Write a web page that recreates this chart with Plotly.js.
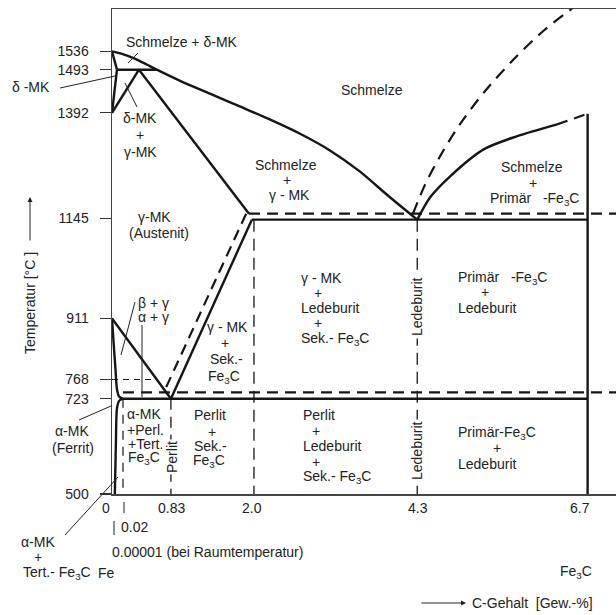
<!DOCTYPE html>
<html><head><meta charset="utf-8">
<script src="https://cdn.plot.ly/plotly-3.0.1.min.js"></script>
<style>html,body{margin:0;padding:0;background:#fff}#chart{width:616px;height:615px}</style>
</head><body><div id="chart"></div>
<script>
// ---------- data: carbon content [Gew.-% C] (schematic scale) and temperature [°C] ----------
const liquidusC = [0, 0.14, 0.32, 0.49, 0.63, 0.96, 1.38, 1.80, 2.23, 2.65, 3.07, 3.49, 3.89, 4.3];
const liquidusT = [1536, 1530, 1519, 1505, 1493, 1467, 1437, 1407, 1376, 1343, 1304, 1255, 1198, 1142];
const deltaSolC = [0, 0.07];           const deltaSolT = [1536, 1493];
const deltaGamC = [0.07, 0];           const deltaGamT = [1493, 1392];
const peritC = [0.07, 0.63];           const peritT = [1493, 1493];
const gammaNC = [0, 0.38];             const gammaNT = [1392, 1493];
const solidusC = [0.38, 1.93];         const solidusT = [1493, 1156];
const eutStableC = [1.93, 7.1];        const eutStableT = [1156, 1156];
const eutC = [1.97, 6.7];              const eutT = [1142, 1142];
const esC = [1.97, 0.83];              const esT = [1142, 723];
const esStableC = [1.89, 0.73];        const esStableT = [1156, 738];
const gsC = [0, 0.83];                 const gsT = [911, 723];
const gpC = [0, 0.02, 0.05, 0.07, 0.10, 0.15]; const gpT = [911, 860, 790, 745, 728, 723];
const pqC = [0.15, 0.10, 0.07, 0.055, 0.04];   const pqT = [723, 718, 700, 620, 500];
const eutdC = [0.15, 6.7];             const eutdT = [723, 723];
const eutdStableC = [0.155, 7.1];      const eutdStableT = [738, 738];
const curieC = [0, 0.6];               const curieT = [768, 768];
const v002C = [0.155, 0.155];          const v002T = [723, 500];
const v083C = [0.83, 0.83];            const v083T = [723, 500];
const v20C = [2.0, 2.0];               const v20T = [1142, 500];
const v43C = [4.3, 4.3];               const v43T = [1142, 500];
const v67C = [6.7, 6.7];               const v67T = [1390, 500];
const cdC = [4.3, 4.48, 4.76, 5.23, 5.70, 6.27]; const cdT = [1142, 1194, 1243, 1306, 1337, 1365];
const cdDashC = [6.27, 6.7];           const cdDashT = [1365, 1390];
const cdStableC = [4.24, 4.41, 4.62, 4.90, 5.25, 5.68, 6.10, 6.48];
const cdStableT = [1156, 1224, 1290, 1365, 1442, 1521, 1587, 1636];
const tempTicks = [500, 723, 768, 911, 1145, 1392, 1493, 1536];
const carbonTickLabels = ['0', '0.83', '2.0', '4.3', '6.7'];

// ---------- drawing ----------
const INK = '#161616';
function ln(x, y, w, dash, shape) {
  return {x: x, y: y, type: 'scatter', mode: 'lines', hoverinfo: 'skip', showlegend: false,
    line: {color: INK, width: w, dash: dash || 'solid', shape: shape || 'linear', smoothing: 0.8}};
}
const MAIN = 2.4, DSH = '11px,7px';
const traces = [
  ln(liquidusC, liquidusT, MAIN, null, 'spline'),
  ln(deltaSolC, deltaSolT, MAIN), ln(deltaGamC, deltaGamT, MAIN), ln(peritC, peritT, MAIN),
  ln(gammaNC, gammaNT, MAIN), ln(solidusC, solidusT, MAIN),
  ln(eutStableC, eutStableT, 2.2, DSH), ln(eutC, eutT, MAIN),
  ln(esC, esT, MAIN), ln(esStableC, esStableT, 2.2, DSH),
  ln(gsC, gsT, MAIN), ln(gpC, gpT, MAIN, null, 'spline'), ln(pqC, pqT, MAIN, null, 'spline'),
  ln(eutdC, eutdT, MAIN), ln(eutdStableC, eutdStableT, 2.2, DSH),
  ln(curieC, curieT, 1, '6px,5px'),
  ln(v002C, v002T, 1.2, '9px,7px'), ln(v083C, v083T, 1.3, '11px,7px'),
  ln(v20C, v20T, 1.3, '12px,7px'), ln(v43C, v43T, 1.3, '12px,7px'),
  ln(v67C, v67T, MAIN),
  ln(cdC, cdT, MAIN, null, 'spline'), ln(cdDashC, cdDashT, 2.2, DSH),
  ln(cdStableC, cdStableT, 2.2, '12px,8px', 'spline')
];

// pixel -> paper helpers for labels (plot area: x 112..616, y 9..494)
const PX = p => (p - 112) / 504;
const PY = p => (494 - p) / 485;
const FONT = {family: 'Liberation Sans, Arial, sans-serif', size: 14, color: '#222'};
function lab(text, x, y, anchor, extra) {
  return Object.assign({text: text, x: PX(x), y: PY(y), xref: 'paper', yref: 'paper',
    xanchor: anchor || 'center', yanchor: 'middle', showarrow: false, font: FONT}, extra || {});
}
const sp = '\u00a0\u00a0\u00a0';
const F3C = 'Fe<sub>3</sub>C';
const annotations = [
  lab('Schmelze + δ-MK', 182, 42),
  lab('Schmelze', 372, 90),
  lab('δ-MK', 140, 118), lab('+', 140, 135), lab('γ-MK', 140, 152),
  lab('Schmelze', 286, 165), lab('+', 287, 180), lab('γ - MK', 289, 195),
  lab('Schmelze', 532, 167), lab('+', 533, 183), lab('Primär' + sp + '-' + F3C, 534, 199),
  lab('γ-MK', 154, 217), lab('(Austenit)', 159, 233),
  lab('β + γ', 136, 303, 'left'), lab('α + γ', 136, 317, 'left'),
  lab('γ - MK', 227, 327), lab('+', 225, 343), lab('Sek.-', 226, 359), lab(F3C, 224, 377),
  lab('γ - MK', 299, 278, 'left'), lab('+', 318, 293), lab('Ledeburit', 299, 308, 'left'),
  lab('+', 318, 323), lab('Sek.- ' + F3C, 299, 339, 'left'),
  lab('Ledeburit', 417, 307, 'center', {textangle: -90, bgcolor: '#fff', borderpad: 2}),
  lab('Primär' + sp + '-' + F3C, 456, 278, 'left'), lab('+', 485, 292), lab('Ledeburit', 456, 308, 'left'),
  lab('α-MK', 125, 414, 'left'), lab('+Perl.', 125, 430, 'left'), lab('+Tert.-', 126, 444, 'left'), lab(F3C, 126, 458, 'left'),
  lab('Perlit', 172, 457, 'center', {textangle: -90, bgcolor: '#fff', borderpad: 1}),
  lab('Perlit', 210, 415), lab('+', 212, 432), lab('Sek.-', 210, 446), lab(F3C, 209, 461),
  lab('Perlit', 301, 415, 'left'), lab('+', 316, 431), lab('Ledeburit', 301, 446, 'left'),
  lab('+', 316, 462), lab('Sek.- ' + F3C, 301, 477, 'left'),
  lab('Ledeburit', 417, 451, 'center', {textangle: -90, bgcolor: '#fff', borderpad: 2}),
  lab('Primär-' + F3C, 456, 433, 'left'), lab('+', 497, 448), lab('Ledeburit', 456, 464, 'left'),
  // outside the frame
  lab('δ -MK', 31, 87),
  lab('α-MK', 72, 431), lab('(Ferrit)', 73, 448),
  lab(carbonTickLabels[0], 106, 508), lab(carbonTickLabels[1], 171, 508), lab(carbonTickLabels[2], 252, 508),
  lab(carbonTickLabels[3], 418, 508), lab(carbonTickLabels[4], 580, 508),
  lab('0.02', 119, 527, 'left'),
  lab('0.00001 (bei Raumtemperatur)', 110, 552, 'left'),
  lab('α-MK', 38, 542), lab('+', 38, 557), lab('Tert.- ' + F3C, 21, 573, 'left'), lab('Fe', 96, 573, 'left'),
  lab(F3C, 576, 572),
  lab('C-Gehalt  [Gew.-%]', 470, 603, 'left'),
  lab('Temperatur [°C ]', 30, 303, 'center', {textangle: -90}),
  {text: '', x: PX(466), y: PY(603), xref: 'paper', yref: 'paper', showarrow: true,
   ax: -46, ay: 0, arrowhead: 2, arrowsize: 1, arrowwidth: 1, arrowcolor: '#222'},
  {text: '', x: PX(30), y: PY(197), xref: 'paper', yref: 'paper', showarrow: true,
   ax: 0, ay: 45, arrowhead: 2, arrowsize: 1, arrowwidth: 1, arrowcolor: '#222'}
];
function lead(x0, y0, x1, y1) {
  return {type: 'line', xref: 'paper', yref: 'paper', x0: PX(x0), y0: PY(y0), x1: PX(x1), y1: PY(y1),
    line: {color: '#222', width: 1}};
}
const shapes = [
  lead(138, 53, 128, 63), lead(60, 88, 115, 76), lead(125, 83, 137, 107),
  lead(135, 302, 121, 355), lead(142, 325, 142, 397), lead(79, 420, 111, 406),
  lead(65, 535, 118, 477), lead(124, 502, 124, 513), lead(114, 521, 114, 535)
];

const layout = {
  width: 616, height: 615, margin: {l: 112, r: 0, t: 9, b: 121},
  paper_bgcolor: '#fff', plot_bgcolor: '#fff', showlegend: false,
  font: FONT,
  xaxis: {range: [0, 7.1], showline: true, mirror: true, linecolor: '#444', linewidth: 1.5,
    showgrid: false, zeroline: false, showticklabels: false, ticks: ''},
  yaxis: {range: [500, 1635], showline: true, linecolor: '#444', linewidth: 1.5,
    showgrid: false, zeroline: false, ticks: 'outside', ticklen: 11, tickwidth: 1.2, tickcolor: '#333',
    tickvals: tempTicks, ticktext: tempTicks.map(String), tickfont: FONT, ticklabelstandoff: 8},
  annotations: annotations, shapes: shapes
};
Plotly.newPlot('chart', traces, layout, {staticPlot: true, displayModeBar: false});
</script></body></html>
